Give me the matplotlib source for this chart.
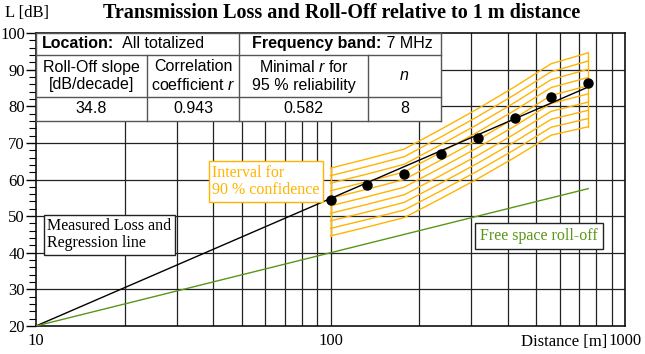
import numpy as np
import matplotlib
matplotlib.use("Agg")
import matplotlib.pyplot as plt
from matplotlib.patches import Rectangle
from matplotlib.ticker import FixedLocator, MultipleLocator, NullFormatter

plt.rcParams['font.family'] = ['Liberation Serif', 'DejaVu Serif']
plt.rcParams['mathtext.fontset'] = 'custom'
plt.rcParams['mathtext.rm'] = 'Liberation Sans'
plt.rcParams['mathtext.it'] = 'Liberation Sans:italic'

# measured points (distance in m, loss in dB)
dist = [100, 133, 178, 237, 316, 422, 561, 750]
loss = [54.5, 58.6, 61.5, 66.9, 71.4, 76.9, 82.4, 86.3]

# 90 % confidence band, read at the measured distances
ci_upper = [63.1, 65.6, 68.3, 73.7, 79.3, 85.3, 91.6, 94.6]
ci_lower = [44.6, 47.0, 49.6, 54.8, 60.2, 66.0, 72.1, 74.4]
n_ci_lines = 10

slope = 34.8          # dB/decade
free_slope = 20.0     # dB/decade
ref_dist = 10
ref_loss = 20
line_end = 750

table_head = ["Roll-Off slope\n[dB/decade]", "Correlation\ncoefficient $\\it{r}$",
              "Minimal $\\it{r}$ for\n95 % reliability", "$\\it{n}$"]
table_vals = ["34.8", "0.943", "0.582", "8"]

orange = '#ffb400'
green = '#5a9618'

fig = plt.figure(figsize=(6.45, 3.54), dpi=100)
ax = fig.add_axes([36/645, 28/354, 589/645, 293/354])
ax.set_xscale('log')
ax.set_xlim(10, 1000)
ax.set_ylim(20, 100)

# grid
xs_grid = [v * d for d in (10, 100) for v in range(1, 10)][1:] + [1000]
for xv in xs_grid:
    ax.axvline(xv, color='#222222', lw=0.9, zorder=1)
for yv in range(30, 100, 10):
    ax.axhline(yv, color='#222222', lw=0.9, zorder=1)

# confidence interval hatch lines
up = np.array(ci_upper)
lo = np.array(ci_lower)
for k in range(n_ci_lines):
    yk = up - (up - lo) * k / (n_ci_lines - 1)
    ax.plot(dist, yk, color=orange, lw=1.0, zorder=2)
ax.plot([dist[0], dist[0]], [lo[0], up[0]], color=orange, lw=1.0, zorder=2)
ax.plot([dist[-1], dist[-1]], [lo[-1], up[-1]], color=orange, lw=1.0, zorder=2)

# regression and free space lines
lx = np.array([ref_dist, line_end])
ax.plot(lx, ref_loss + slope * np.log10(lx / ref_dist), color='black', lw=1.0, zorder=3)
ax.plot(lx, ref_loss + free_slope * np.log10(lx / ref_dist), color=green, lw=1.0, zorder=3)
ax.plot(dist, loss, 'o', color='black', ms=6.5, zorder=4)

# axes styling
for s in ax.spines.values():
    s.set_linewidth(1.2)
    s.set_color('#111111')
ax.xaxis.set_major_locator(FixedLocator([10, 100, 1000]))
ax.xaxis.set_minor_formatter(NullFormatter())
ax.set_xticklabels(['10', '100', '1000'])
ax.tick_params(axis='x', which='both', length=0, pad=5, labelsize=12)
ax.yaxis.set_major_locator(MultipleLocator(10))
ax.yaxis.set_minor_locator(MultipleLocator(2))
ax.tick_params(axis='y', which='major', length=7, width=1, pad=1, labelsize=12)
ax.tick_params(axis='y', which='minor', length=5, width=0.8)

ax.text(0.97, -0.028, 'Distance [m]', transform=ax.transAxes, ha='right', va='top', fontsize=12)
fig.text(5/645, 1 - 13/354, 'L [dB]', ha='left', va='center', fontsize=12)
fig.text(342/645, 1 - 13/354, 'Transmission Loss and Roll-Off relative to 1 m distance',
         ha='center', va='center', fontsize=14.5, fontweight='bold')

# table
cols = [0, 0.188, 0.345, 0.564, 0.687]
rows = [1.0, 0.925, 0.782, 0.700]
tbl_c = '#555555'
fs_t = 11.5
ax.add_patch(Rectangle((0, rows[-1]), cols[-1], 1 - rows[-1], transform=ax.transAxes,
                       fc='white', ec='none', zorder=5, clip_on=False))
for r in rows:
    ax.plot([0, cols[-1]], [r, r], transform=ax.transAxes, color=tbl_c, lw=1.0, zorder=6, clip_on=False)
for c in cols:
    top = rows[0]
    if c in (cols[1], cols[3]):
        top = rows[1]
    ax.plot([c, c], [rows[-1], top], transform=ax.transAxes, color=tbl_c, lw=1.0, zorder=6, clip_on=False)

sans = ['Liberation Sans', 'DejaVu Sans']
ty = (rows[0] + rows[1]) / 2
t1 = ax.text(0.01, ty, 'Location:', transform=ax.transAxes, family=sans, fontweight='bold',
             fontsize=fs_t, va='center', ha='left', zorder=7)
ax.annotate('  All totalized', xy=(1, 0), xycoords=t1, va='bottom', ha='left',
            family=sans, fontsize=fs_t, zorder=7)
t2 = ax.text(cols[2] + 0.022, ty, 'Frequency band:', transform=ax.transAxes, family=sans,
             fontweight='bold', fontsize=fs_t, va='center', ha='left', zorder=7)
ax.annotate(' 7 MHz', xy=(1, 0), xycoords=t2, va='bottom', ha='left',
            family=sans, fontsize=fs_t, zorder=7)
for i in range(4):
    cx = (cols[i] + cols[i + 1]) / 2
    ax.text(cx, (rows[1] + rows[2]) / 2, table_head[i], transform=ax.transAxes, family=sans,
            fontsize=fs_t, ha='center', va='center', linespacing=1.2, zorder=7)
    ax.text(cx, (rows[2] + rows[3]) / 2, table_vals[i], transform=ax.transAxes, family=sans,
            fontsize=fs_t, ha='center', va='center', zorder=7)

# labels in boxes
ax.text(0.019, 0.311, 'Measured Loss and\nRegression line', transform=ax.transAxes,
        fontsize=11.5, ha='left', va='center', zorder=7, linespacing=1.1,
        bbox=dict(boxstyle='square,pad=0.22', fc='white', ec='#222222', lw=1))
ax.text(0.299, 0.493, 'Interval for\n90 % confidence', transform=ax.transAxes, color=orange,
        fontsize=11.5, ha='left', va='center', zorder=7, linespacing=1.1,
        bbox=dict(boxstyle='square,pad=0.22', fc='white', ec=orange, lw=1))
ax.text(0.754, 0.307, 'Free space roll-off', transform=ax.transAxes, color=green,
        fontsize=11.5, ha='left', va='center', zorder=7,
        bbox=dict(boxstyle='square,pad=0.3', fc='white', ec='#222222', lw=1))

fig.savefig('out.png', dpi=100)
